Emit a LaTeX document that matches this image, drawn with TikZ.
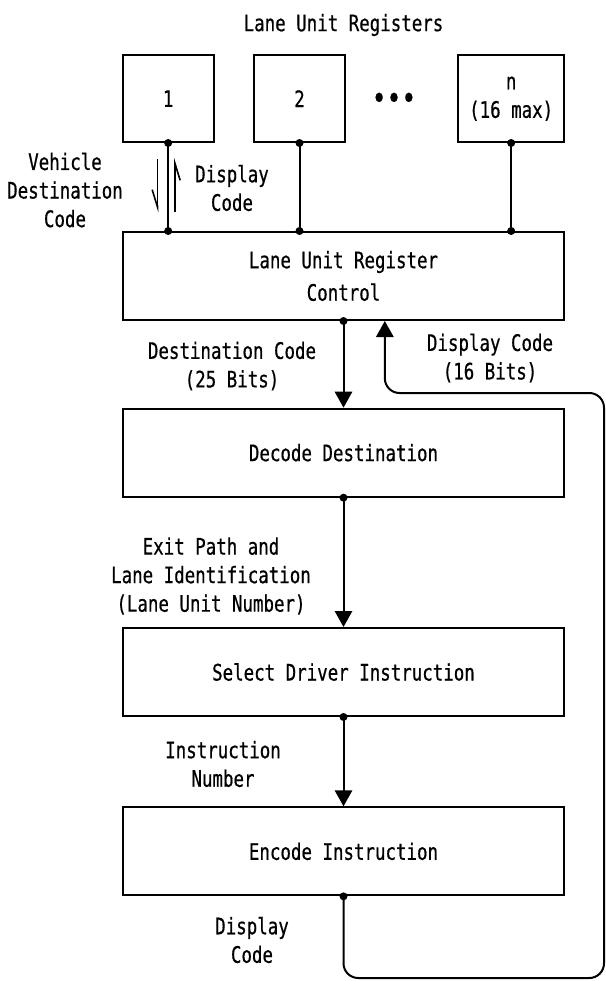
\documentclass[tikz,border=0pt]{standalone}
\usepackage{fontspec}
\setmainfont[FakeStretch=0.77, FakeBold=0.6]{DejaVu Sans Mono}
\usetikzlibrary{arrows.meta, positioning}

\begin{document}
\begin{tikzpicture}[x=0.75pt, y=-0.75pt, node distance=65pt,
    every node/.style={font=\fontsize{17}{21.4}\selectfont},
    block/.style={rectangle, draw, line width=1.5pt, minimum width=331pt, minimum height=66pt, align=center},
    reg/.style={rectangle, draw, line width=1.5pt, minimum width=68pt, minimum height=65pt, align=center},
    note/.style={align=center},
    line/.style={draw, line width=1.5pt, -{Triangle[length=12pt, width=13pt]}},
    wire/.style={draw, line width=1.5pt},
    harp/.style={draw, line width=1.2pt, -{Straight Barb[right, length=13pt, width=8pt]}}]

    \useasboundingbox (0,0) rectangle (606,981);

    % processing chain
    \node [block] (ctrl) at (343.5,276) {Lane Unit Register\\[3pt]Control};
    \node [block, below=65pt of ctrl] (decode) {Decode Destination};
    \node [block, below=97pt of decode] (select) {Select Driver Instruction};
    \node [block, below=67pt of select] (encode) {Encode Instruction};

    % lane unit registers
    \node [reg, above=66pt of ctrl.north west, anchor=south west] (reg1) {1};
    \node [reg, right=29pt of reg1] (reg2) {2};
    \node [reg, minimum width=79.5pt, above=66pt of ctrl.north east, anchor=south east] (regn) {n\\(16 max)};
    \node (dots) at (394,101) {\fontsize{24}{24}\selectfont\textbullet\textbullet\textbullet};
    \node (title) at (343.5,25) {Lane Unit Registers};

    % labels
    \node [note] (vdc) at (65,190) {Vehicle\\Destination\\Code};
    \node [note] (dc1) at (232,188) {Display\\Code};
    \node [note] (dest) at (232,366) {Destination Code\\(25 Bits)};
    \node [note] (dc16) at (490,358) {Display Code\\(16 Bits)};
    \node [note] (exit) at (211,576) {Exit Path and\\Lane Identification\\(Lane Unit Number)};
    \node [note] (instr) at (223,764) {Instruction\\Number};
    \node [note] (dc2) at (252,940) {Display\\Code};

    % register buses
    \foreach \r in {reg1, reg2, regn}
        \path [wire] (\r.south) -- (\r.south |- ctrl.north);
    \path [harp] ([xshift=-8pt, yshift=-12pt]reg1.south) -- ([xshift=-8pt, yshift=14pt]reg1.south |- ctrl.north);
    \path [harp] ([xshift=5pt, yshift=14pt]reg1.south |- ctrl.north) -- ([xshift=5pt, yshift=-11pt]reg1.south);

    % main flow
    \path [line] (ctrl) -- (decode);
    \path [line] (decode) -- (select);
    \path [line] (select) -- (encode);

    % display code fed back
    \coordinate (loopbr) at (604,978);
    \coordinate (looptr) at (604,393);
    \path [line, rounded corners=11pt] (encode.south) |- (loopbr) -- (looptr) -| ([xshift=31pt]ctrl.south);

    % junction dots
    \foreach \p in {reg1.south, reg2.south, regn.south, reg1.south |- ctrl.north,
                    reg2.south |- ctrl.north, regn.south |- ctrl.north,
                    ctrl.south, decode.south, select.south, encode.south}
        \fill (\p) circle (3pt);
\end{tikzpicture}
\end{document}
